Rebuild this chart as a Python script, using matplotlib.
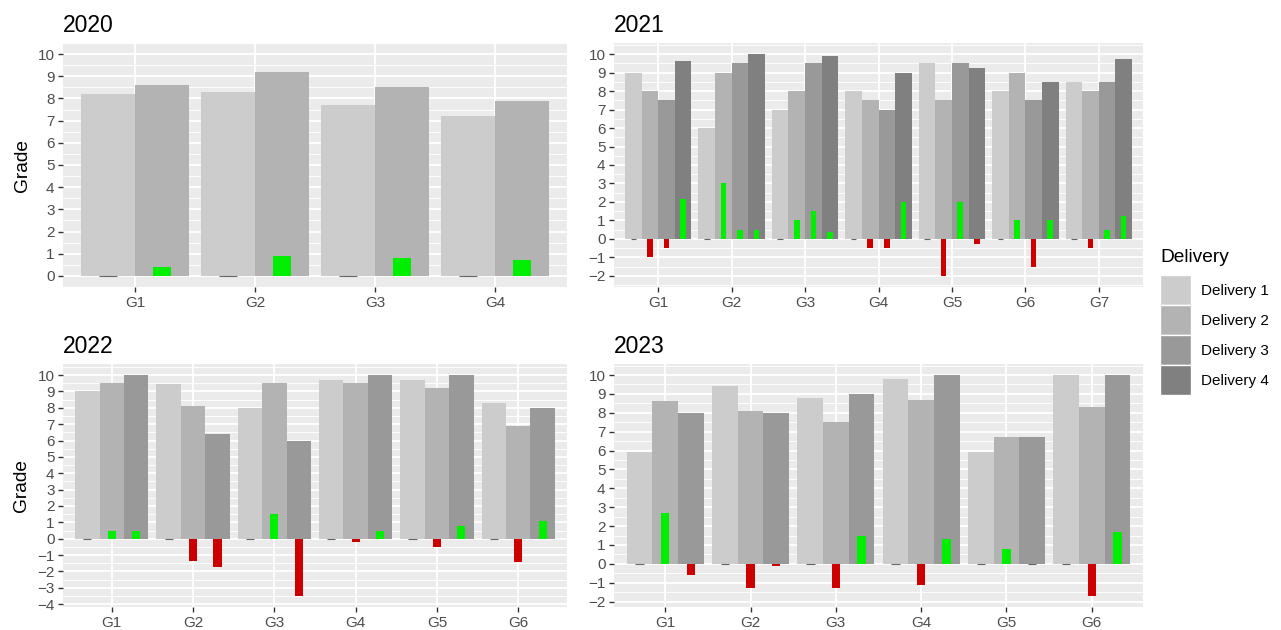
import matplotlib.pyplot as plt
import numpy as np
from matplotlib.patches import Patch
from matplotlib.ticker import MultipleLocator

plt.rcParams['font.family'] = ['Liberation Sans', 'DejaVu Sans']

# grades per group, one column per delivery
years = ['2020', '2021', '2022', '2023']

groups_2020 = ['G1', 'G2', 'G3', 'G4']
grades_2020 = [[8.2, 8.6], [8.3, 9.2], [7.7, 8.5], [7.2, 7.9]]

groups_2021 = ['G1', 'G2', 'G3', 'G4', 'G5', 'G6', 'G7']
grades_2021 = [[9.0, 8.0, 7.5, 9.65],
               [6.0, 9.0, 9.5, 10.0],
               [7.0, 8.0, 9.5, 9.9],
               [8.0, 7.5, 7.0, 9.0],
               [9.5, 7.5, 9.5, 9.25],
               [8.0, 9.0, 7.5, 8.5],
               [8.5, 8.0, 8.5, 9.75]]

groups_2022 = ['G1', 'G2', 'G3', 'G4', 'G5', 'G6']
grades_2022 = [[9.0, 9.5, 10.0],
               [9.45, 8.1, 6.4],
               [8.0, 9.5, 6.0],
               [9.7, 9.5, 10.0],
               [9.7, 9.2, 10.0],
               [8.3, 6.9, 8.0]]

groups_2023 = ['G1', 'G2', 'G3', 'G4', 'G5', 'G6']
grades_2023 = [[5.9, 8.6, 8.0],
               [9.4, 8.1, 8.0],
               [8.8, 7.5, 9.0],
               [9.8, 8.7, 10.0],
               [5.9, 6.7, 6.7],
               [10.0, 8.3, 10.0]]

deliveries = ['Delivery 1', 'Delivery 2', 'Delivery 3', 'Delivery 4']
delivery_colors = ['#CCCCCC', '#B3B3B3', '#999999', '#808080']
up_color = '#00EE00'
down_color = '#CD0000'
zero_color = '#666666'

TICK = 11
TITLE = 16.5
LAB = 13.75


def draw_panel(ax, title, groups, grades, ylabel):
    grades = np.array(grades, dtype=float)
    n_grp, n_del = grades.shape
    # change from previous delivery, first delivery has none
    diffs = np.diff(grades, axis=1, prepend=grades[:, :1])
    x = np.arange(1, n_grp + 1)
    bw = 0.9 / n_del
    for i in range(n_del):
        pos = x + (i - (n_del - 1) / 2) * bw
        ax.bar(pos, grades[:, i], width=bw, color=delivery_colors[i], zorder=2)
        d = np.round(diffs[:, i], 6)
        cols = [up_color if v > 0 else down_color for v in d]
        edges = [zero_color if v == 0 else 'none' for v in d]
        ax.bar(pos, d, width=0.3 / n_del, color=cols, edgecolor=edges,
               linewidth=0.8, zorder=3)

    lo = min(diffs.min(), 0)
    hi = 10
    pad = (hi - lo) * 0.05
    ax.set_ylim(lo - pad, hi + pad)
    ax.set_xlim(0.4, n_grp + 0.6)
    ax.set_xticks(x)
    ax.set_xticklabels(groups)
    ax.set_yticks(np.arange(np.ceil(lo - pad), hi + 1))
    ax.yaxis.set_minor_locator(MultipleLocator(0.5))
    ax.tick_params(axis='y', which='minor', length=0)

    ax.set_facecolor('#EBEBEB')
    ax.set_axisbelow(True)
    ax.grid(which='major', color='white', linewidth=1.33)
    ax.grid(which='minor', axis='y', color='white', linewidth=0.67)
    for s in ax.spines.values():
        s.set_visible(False)
    ax.tick_params(which='major', length=3.4, width=1.0, color='#333333',
                   labelcolor='#4D4D4D', labelsize=TICK, pad=2.75)
    ax.set_title(title, loc='left', fontsize=TITLE, pad=8)
    if ylabel:
        ax.set_ylabel('Grade', fontsize=LAB, labelpad=5)


fig = plt.figure(figsize=(12.81, 6.3), dpi=100)
W, H = 1281, 630


def box(x0, y0, x1, y1):
    return [x0 / W, 1 - y1 / H, (x1 - x0) / W, (y1 - y0) / H]


ax1 = fig.add_axes(box(63, 43, 567, 287))
ax2 = fig.add_axes(box(614, 43, 1143, 287))
ax3 = fig.add_axes(box(63, 364, 567, 607))
ax4 = fig.add_axes(box(614, 364, 1143, 607))

draw_panel(ax1, years[0], groups_2020, grades_2020, True)
draw_panel(ax2, years[1], groups_2021, grades_2021, False)
draw_panel(ax3, years[2], groups_2022, grades_2022, True)
draw_panel(ax4, years[3], groups_2023, grades_2023, False)

fig.text(1160 / W, 1 - 257 / H, 'Delivery', fontsize=LAB, ha='left', va='center')
handles = [Patch(facecolor=c, edgecolor='white', linewidth=1.0) for c in delivery_colors]
leg = fig.legend(handles, deliveries, loc='upper left',
                 bbox_to_anchor=(1160 / W, 1 - 275 / H), frameon=False,
                 fontsize=TICK, handlelength=2.0, handleheight=2.65,
                 labelspacing=0, handletextpad=0.7, borderaxespad=0,
                 borderpad=0)

fig.savefig('out.png', dpi=100)
